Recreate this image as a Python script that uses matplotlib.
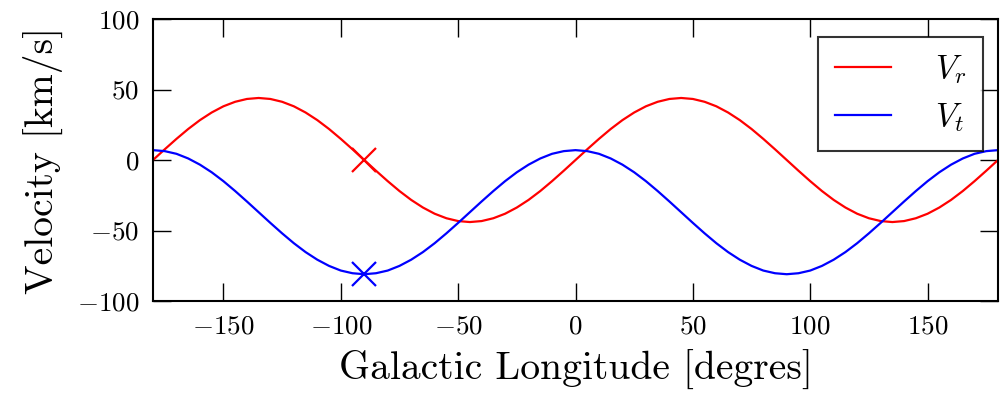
import matplotlib
matplotlib.use("Agg")
import matplotlib.pyplot as plt

plt.rcParams['font.family'] = 'cmr10'
plt.rcParams['mathtext.fontset'] = 'cm'
plt.rcParams['axes.formatter.use_mathtext'] = True

longitude = list(range(-180, 185, 5))

vr_half = [0, 7.6, 15.0, 22.0, 28.3, 33.7, 38.1, 41.3, 43.3, 44.0,
           43.3, 41.3, 38.1, 33.7, 28.3, 22.0, 15.0, 7.6]
v_r = (vr_half + [-v for v in vr_half]) * 2 + [0]

vt_quarter = [7.0, 6.3, 4.4, 1.1, -3.3, -8.7, -15.0, -22.0, -29.4, -37.0,
              -44.6, -52.0, -59.0, -65.3, -70.7, -75.1, -78.4, -80.3, -81.0]
vt_half = vt_quarter + vt_quarter[-2::-1]  # 0..180
v_t = vt_half[::-1] + vt_half[1:]

mark_lon = [-90]
mark_vr = [0]
mark_vt = [-81]

fig = plt.figure(figsize=(10, 3.98), dpi=100)
ax = fig.add_axes([0.153, 0.2437, 0.845, 0.7085])

ax.plot(longitude, v_r, color='red', lw=1.6, label=r'$V_r$')
ax.plot(longitude, v_t, color='blue', lw=1.6, label=r'$V_t$')
ax.plot(mark_lon, mark_vr, 'x', color='red', ms=17, mew=1.6)
ax.plot(mark_lon, mark_vt, 'x', color='blue', ms=17, mew=1.6)

ax.set_xlim(-180, 180)
ax.set_ylim(-100, 100)
ax.set_xticks([-150, -100, -50, 0, 50, 100, 150])
ax.set_yticks([-100, -50, 0, 50, 100])
ax.tick_params(direction='in', top=True, right=True, length=13, width=1,
               labelsize=19.5, pad=10)
for s in ax.spines.values():
    s.set_linewidth(1.5)

ax.set_xlabel('Galactic Longitude [degres]', fontsize=28.5, labelpad=8)
ax.set_ylabel('Velocity [km/s]', fontsize=28.5, labelpad=10)

leg = ax.legend(loc='upper right', bbox_to_anchor=(0.982, 0.936),
                borderaxespad=0, fontsize=24, fancybox=False,
                handlelength=1.7, borderpad=0.5, labelspacing=0.45,
                handletextpad=1.3)
leg.get_frame().set_edgecolor('black')
leg.get_frame().set_linewidth(1.5)

fig.savefig('out.png', dpi=100)
